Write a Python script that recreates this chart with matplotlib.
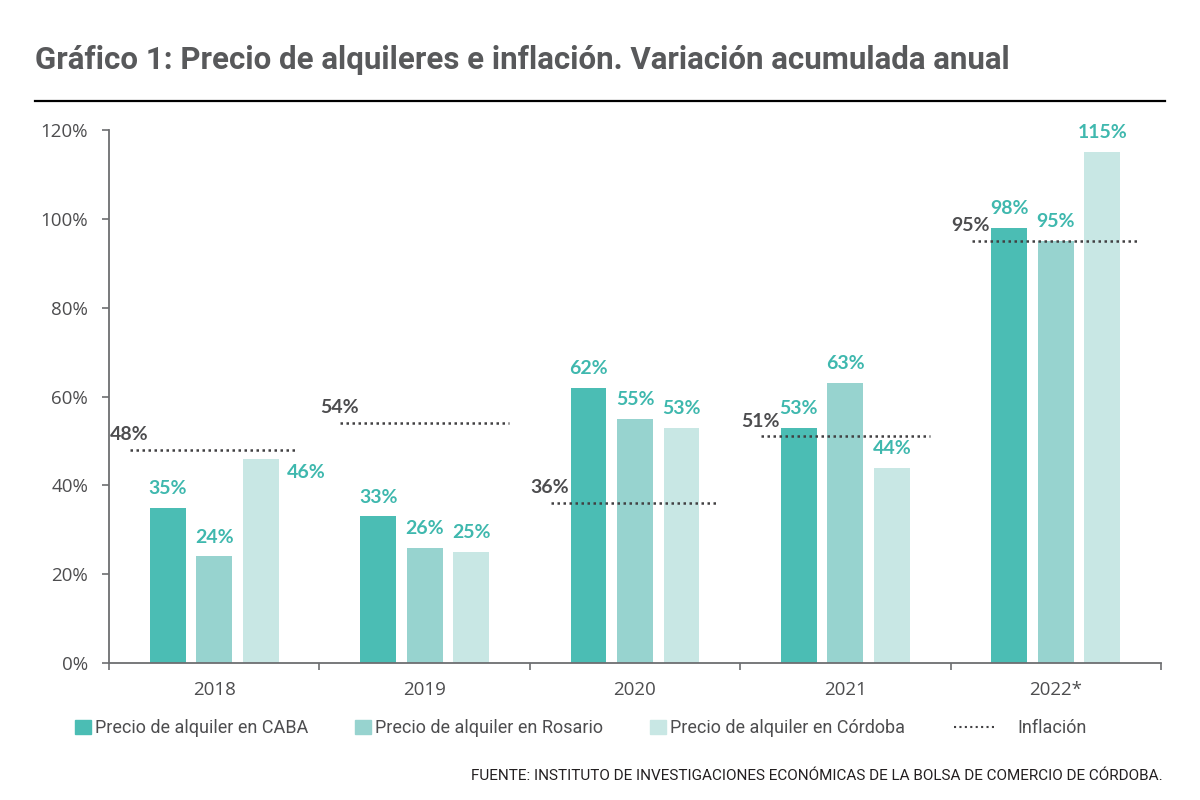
import numpy as np
import matplotlib
matplotlib.use('Agg')
from matplotlib import pyplot as plt
from matplotlib.lines import Line2D
from matplotlib.patches import Patch

# datos
years = ['2018', '2019', '2020', '2021', '2022*']
caba = [35, 33, 62, 53, 98]
rosario = [24, 26, 55, 63, 95]
cordoba = [46, 25, 53, 44, 115]
inflacion = [48, 54, 36, 51, 95]
series_names = ['Precio de alquiler en CABA', 'Precio de alquiler en Rosario',
                'Precio de alquiler en Córdoba']
yticks = [0, 20, 40, 60, 80, 100, 120]

colors = ['#4bbdb4', '#97d3cf', '#c8e7e4']
label_color = '#3fb8ae'
dark = '#4d4d4f'
narrow = ['Roboto', 'DejaVu Sans']
plain = ['Open Sans', 'DejaVu Sans']
bold = ['Lato', 'DejaVu Sans']

fig = plt.figure(figsize=(12, 8), dpi=100)
ax = fig.add_axes([109/1200, 1-663/800, 1052/1200, 533/800])

x = np.arange(len(years))
step = 0.221
width = 0.171

for k, vals in enumerate([caba, rosario, cordoba]):
    xs = x + (k - 1) * step
    ax.bar(xs, vals, width, color=colors[k], zorder=2)
    for i, v in enumerate(vals):
        if i == 0 and k == 2:
            # etiqueta al costado de la barra
            ax.annotate(f'{v}%', (xs[i] + width/2, v), xytext=(6, -14),
                        textcoords='offset points', ha='left', va='baseline',
                        color=label_color, fontsize=14, fontweight='bold',
                        family=bold)
        else:
            ax.annotate(f'{v}%', (xs[i], v), xytext=(0, 10),
                        textcoords='offset points', ha='center', va='baseline',
                        color=label_color, fontsize=14, fontweight='bold',
                        family=bold)

# inflación
ax.hlines(inflacion, x - 0.4, x + 0.4, colors='#414042', linewidth=1.8,
          linestyles=(0, (1, 1.4)), zorder=3)
for i, v in enumerate(inflacion):
    ax.annotate(f'{v}%', (x[i] - 0.4, v), xytext=(13, 7),
                textcoords='offset points', ha='right', va='baseline',
                color=dark, fontsize=14, fontweight='bold', family=bold)

ax.set_xlim(-0.5, len(years) - 0.5)
ax.set_ylim(0, 120)
ax.set_yticks(yticks)
ax.set_yticklabels([f'{t}%' for t in yticks], family=plain, fontsize=13.5, color=dark)
ax.set_xticks(x)
ax.set_xticklabels(years, family=plain, fontsize=13.5, color=dark)
ax.set_xticks(np.arange(len(years) + 1) - 0.5, minor=True)
ax.tick_params(axis='x', which='major', length=0, pad=13)
ax.tick_params(axis='x', which='minor', length=5, width=1.2, color='#6d6e71')
ax.tick_params(axis='y', length=5, width=1.2, color='#6d6e71', pad=10)
for s in ['top', 'right']:
    ax.spines[s].set_visible(False)
for s in ['left', 'bottom']:
    ax.spines[s].set_color('#6d6e71')
    ax.spines[s].set_linewidth(1.3)

# leyenda
handles = [Patch(color=c) for c in colors]
fig.legend(handles, series_names, loc='center left', ncol=3,
           bbox_to_anchor=(75/1200, 1-728/800), frameon=False, borderpad=0,
           borderaxespad=0, handlelength=0.9, handleheight=0.8,
           handletextpad=0.2, columnspacing=2.6,
           prop={'family': narrow, 'size': 13}, labelcolor=dark)
fig.legend([Line2D([], [], color='#414042', linewidth=1.5, linestyle=(0, (1, 1.6)))],
           ['Inflación'], loc='center left', bbox_to_anchor=(954/1200, 1-728/800),
           frameon=False, borderpad=0, borderaxespad=0, handlelength=2.4,
           handletextpad=1.1, prop={'family': narrow, 'size': 13}, labelcolor=dark)

# título y fuente
fig.text(35/1200, 1-60/800,
         'Gráfico 1: Precio de alquileres e inflación. Variación acumulada anual',
         ha='left', va='center', fontsize=22.5, fontweight='bold', color='#58595b',
         family=narrow)
fig.add_artist(Line2D([35/1200, 1165/1200], [1-101/800, 1-101/800],
                      transform=fig.transFigure, color='black', linewidth=1.6))
fig.text(1163/1200, 1-776/800,
         'FUENTE: INSTITUTO DE INVESTIGACIONES ECONÓMICAS DE LA BOLSA DE COMERCIO DE CÓRDOBA.',
         ha='right', va='center', fontsize=11, color='#231f20', family=narrow)

fig.savefig('out.png', dpi=100)
